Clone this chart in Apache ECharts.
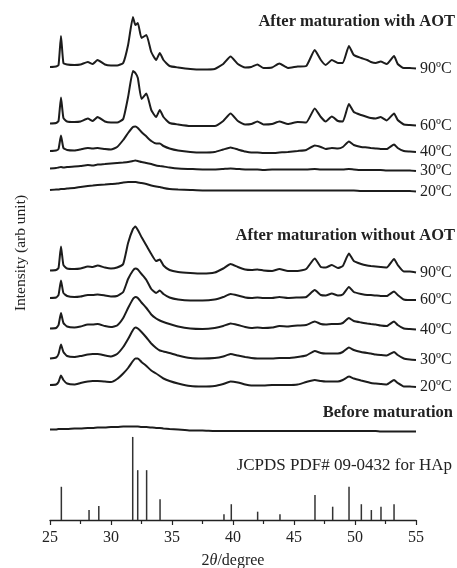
<!DOCTYPE html>
<html>
<head>
<meta charset="utf-8">
<script src="https://cdn.jsdelivr.net/npm/echarts@6/dist/echarts.min.js"></script>
<style>
html,body{margin:0;padding:0;background:#fff;}
#chart{width:457px;height:568px;}
</style>
</head>
<body>
<div id="chart"></div>
<script>
// 2θ sampling positions (degree)
var twoTheta = [25.0,25.5,25.7,25.9,26.1,26.4,27.0,27.5,28.1,28.5,28.9,29.5,30.0,30.5,31.0,31.4,31.8,32.0,32.2,32.5,32.9,33.3,33.7,34.0,34.3,34.8,35.5,36.5,37.5,38.5,39.2,39.8,40.4,41.0,41.5,42.0,42.5,43.2,43.8,44.5,45.3,46.0,46.7,47.2,47.6,48.1,48.6,49.0,49.5,49.9,50.5,51.0,51.3,51.7,52.1,52.6,53.2,53.5,54.0,54.5,55.0];

// After maturation with AOT (arb. intensity)
var aot90 = [3,3.5,5,34,7,5.5,5,5.5,8,6,10,5.5,4.5,4.5,7,25,53,45,47,32,35,18,10,17,10,4,2.5,1,0.5,1,6,13.5,6,2.5,3,5.5,2,2.5,6.5,2,3.5,4,20,10,5,10,7,7,24,15,12,10,8,7,8.5,6,14,6,2,2,1.5];
var aot60 = [2.5,3,5,28.5,8,4.5,4,4.5,7.5,5,9,4.5,3.5,3.5,7,29,55,53,48,27,32.5,16,9,16,9,3,1.5,0,0,0,5,12.5,5,1.5,2,4.5,1.5,2,4.5,2,4,3.5,17.5,9,4.5,9.5,5,4.5,22,14,11,9,8,7.5,9,5.5,12.5,6,1.5,1,0.5];
var aot40 = [2,2.5,4,17.5,5,3,2.5,3.5,5,4.5,5,4,3.5,6,13,20,26,26.5,25,21,16.5,12,9.5,9.5,7,4.5,2.5,1,0.5,1,3.5,5.5,3.5,1.5,0.5,0.5,0,0,0.5,1,2,3,7.5,6,4,5,4.5,6,11.5,8,6,5.5,5,4.5,4,4,8.5,5,2,1.5,1];
var aot30 = [2.5,3,3.5,4,3.5,4,4.5,5,6,5.5,6.5,7,7.5,8,8.5,9,10,10.5,10,9,8,7,5.5,5,4.5,3.5,2.5,2,1.5,1.5,2,2.5,2,1.5,1.5,1.5,1,1.5,1.5,1.5,1.5,1.5,2,1.5,1.5,1.5,1.5,1.5,2,1.5,1,1,1,1,1,0.5,0.5,0.5,0.5,0.5,0];
var aot20 = [2,2.5,2.5,3,3,3.5,4,5,6,6.5,7,7.5,8,8.5,9.5,10,10,10,9.5,9,8,6.5,5.5,5,4,3,2.5,2,1.5,1.5,1.5,1.5,1.5,1.5,1.5,1.5,1.5,1.5,1.5,1.5,1.5,1.5,1.5,1.5,1.5,1.5,1.5,1.5,1.5,1.5,1,1,1,1,1,1,1,1,1,1,0.5];

// After maturation without AOT
var noAot90 = [3.5,4,6,27.5,9,5.5,5,5.5,7.5,7,8.5,6.5,5.5,6.5,10,31,45,47.5,44,37,28.5,20,13,14.5,8.5,4,2,1,0.5,1.5,5.5,10,7,4.5,4,4.5,3.5,3,5,3,3,5,15.5,7,6.5,9,6,8,20.5,13,10,8.5,8,7.5,7,6.5,15,9,2.5,2.5,1.5];
var noAot60 = [3,3.5,6,20.5,8,5,4,4.5,6,6,6.5,5.5,4.5,5,9,22,30.5,32.5,31.5,27,21,12,8,10.5,7,3.5,1.5,0.5,0.5,1.5,4,7,5.5,3.5,3,3.5,3,3,4,3,3.5,4,11,6,5.5,7.5,5.5,6.5,14,9,7,6,6,5.5,5,5,9.5,6,1.5,1,1];
var noAot40 = [1.5,2,5,17,7,3.5,2.5,3.5,5.5,5.5,6,4,3,4.5,12,22,31,33,32,27.5,22,15.5,11.5,9.5,8,6,3.5,1.5,1,2,4,6.5,5,3,2,2.5,2,2.5,4,3.5,4.5,5,8.5,6,5.5,6,6,7,12,9,7.5,6.5,6,5.5,4.5,4,8.5,5,1.5,1,0.5];
var noAot30 = [2.5,3.5,7,16.5,9,5,4,5,6.5,7,7,5.5,4.5,7,14,22,31,33.5,32.5,29,23.5,17.5,13,10.5,9.5,8,5.5,3,2.5,3,4.5,7,5.5,4,3,2.5,2.5,2.5,3,3,4,5.5,10,8,7.5,7.5,7.5,9,13.5,11,9,8,7.5,6.5,6,5.5,9,6,2.5,1.5,1];
var noAot20 = [3,3.5,6,12.5,8,4.5,3.5,5,6.5,7,7,6.5,6,9,14.5,20,27,29.5,29.5,26,22,17.5,14.5,12,9.5,7,4.5,2,1.5,2,4,6.5,5.5,3.5,2.5,2.5,2.5,3,3,3,3.5,6,8,7,6.5,6.5,6.5,8,11.5,9.5,7.5,6,5,4.5,4,3.5,8,5,1.5,1.5,1];

// Before maturation
var before = [2.5,2.5,3,3,3,3,3.5,3.5,4,4,4.5,4.5,5,5,5.5,5.5,5.5,5.5,5.5,5,5,4.5,4,4,3.5,3,2.5,1.5,1.5,1,1,1,1,1,1,1,1,1,1,1,1,1,1,1,1,1,1,1,1,1,1,1,1,1,0.5,0.5,0.5,0.5,0.5,0.5,0.5];

// vertical stacking offsets of each pattern (arb. units)
var traceOffsets = [450,394,367,349,328,246,219,190,159,132,88];
var traceLabels = ['90ºC','60ºC','40ºC','30ºC','20ºC','90ºC','60ºC','40ºC','30ºC','20ºC',''];

// JCPDS PDF# 09-0432 reference lines
var pdfPositions = [25.93,28.2,29.0,31.78,32.19,32.92,34.02,39.26,39.86,42.02,43.85,46.72,48.17,49.51,50.52,51.34,52.13,53.2];
var pdfIntensity = [40,12,17,100,60,60,25,7,19,10,7,30,16,40,19,12,16,19];

var xTicks = [25,30,35,40,45,50,55];

var traces = [aot90,aot60,aot40,aot30,aot20,noAot90,noAot60,noAot40,noAot30,noAot20,before];
var FONT = 'Liberation Serif';
var INK = '#1c1c1c';

var series = traces.map(function(arr, k){
  return {
    type: 'line',
    xAxisIndex: 0, yAxisIndex: 0,
    data: twoTheta.map(function(t, i){ return [t, traceOffsets[k] + arr[i]]; }),
    showSymbol: false,
    symbol: 'none',
    smooth: 0.15,
    lineStyle: {color: INK, width: 2},
    clip: false,
    endLabel: traceLabels[k] ? {
      show: true,
      formatter: traceLabels[k],
      fontFamily: FONT, fontSize: 16, color: '#222', distance: 4
    } : {show: false},
    z: 3
  };
});

series.push({
  type: 'bar',
  xAxisIndex: 0, yAxisIndex: 1,
  data: pdfPositions.map(function(p, i){ return [p, pdfIntensity[i]]; }),
  barWidth: 1.5,
  itemStyle: {color: '#333'},
  z: 2
});

var chart = echarts.init(document.getElementById('chart'), null, {renderer: 'canvas'});
chart.setOption({
  animation: false,
  backgroundColor: '#fff',
  grid: {left: 50, right: 41, top: 0, bottom: 48, containLabel: false, outerBoundsMode: 'none'},
  xAxis: {
    type: 'value', min: xTicks[0], max: xTicks[xTicks.length-1], interval: 5,
    axisLine: {show: true, lineStyle: {color: '#222', width: 1.3}},
    axisTick: {show: true, length: 5, lineStyle: {color: '#222', width: 1.2}},
    minorTick: {show: true, splitNumber: 2, length: 4, lineStyle: {color: '#222', width: 1.2}},
    splitLine: {show: false},
    axisLabel: {fontFamily: FONT, fontSize: 16, color: '#222', margin: 10},
    name: '2{i|θ}/degree',
    nameLocation: 'middle',
    nameGap: 33,
    nameTextStyle: {fontFamily: FONT, fontSize: 16, color: '#222',
      rich: {i: {fontFamily: FONT, fontSize: 16, fontStyle: 'italic', color: '#222'}}}
  },
  yAxis: [
    {type: 'value', min: 0, max: 520, show: false},
    {type: 'value', min: 0, max: 626, show: false}
  ],
  graphic: [
    {type: 'text', right: 2, top: 13, style: {text: 'After maturation with AOT', font: 'bold 16.5px "Liberation Serif"', fill: '#222'}},
    {type: 'text', right: 2, top: 227, style: {text: 'After maturation without AOT', font: 'bold 16.5px "Liberation Serif"', fill: '#222'}},
    {type: 'text', right: 4, top: 404, style: {text: 'Before maturation', font: 'bold 16.5px "Liberation Serif"', fill: '#222'}},
    {type: 'text', right: 5, top: 457, style: {text: 'JCPDS PDF# 09-0432 for HAp', font: '17px "Liberation Serif"', fill: '#222'}},
    {type: 'text', x: 21, y: 253, rotation: Math.PI/2,
      style: {text: 'Intensity (arb unit)', font: '15.5px "Liberation Serif"', fill: '#222', textAlign: 'center', textVerticalAlign: 'middle'}}
  ],
  series: series
});
</script>
</body>
</html>
